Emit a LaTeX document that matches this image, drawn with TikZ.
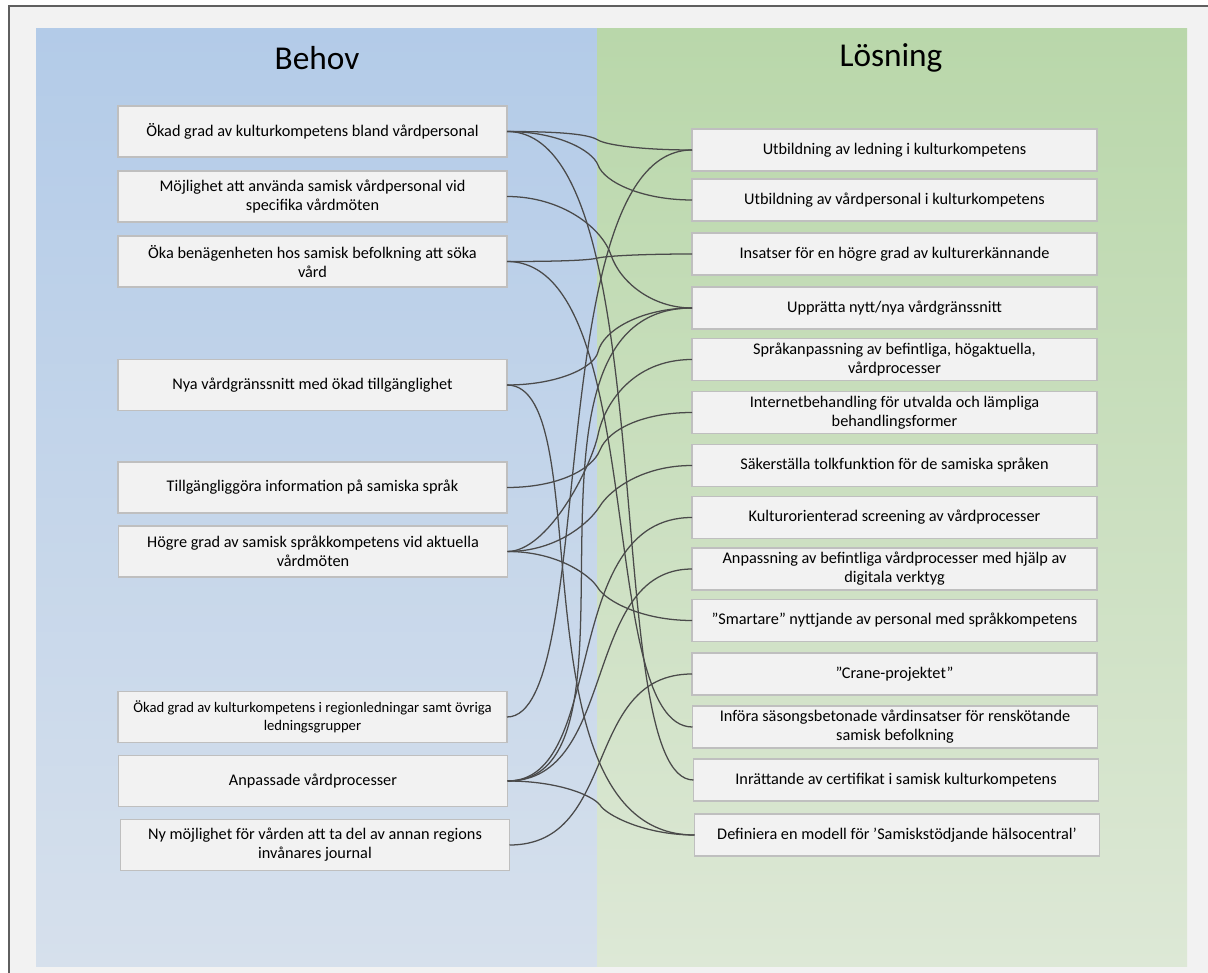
\documentclass[tikz,border=0pt]{standalone}
\usepackage{fontspec}
\setmainfont{Carlito}
\definecolor{pagegrey}{HTML}{F2F2F2}
\definecolor{framegrey}{HTML}{5F5F5F}
\definecolor{behovtop}{HTML}{B3CBE8}
\definecolor{behovbot}{HTML}{D6E0EC}
\definecolor{losntop}{HTML}{B9D7AA}
\definecolor{losnbot}{HTML}{DDE8D6}
\definecolor{boxfill}{HTML}{F2F2F2}
\definecolor{boxline}{HTML}{BFBFBF}
\definecolor{linkgrey}{HTML}{4A4A4A}
\begin{document}
\begin{tikzpicture}[x=0.75pt,y=-0.75pt,
  need/.style={draw=boxline, fill=boxfill, line width=0.9pt, inner sep=0pt, outer sep=0pt,
    minimum width=291.75pt, minimum height=38.25pt, align=center,
    font=\fontsize{12.2}{14.3}\selectfont},
  sol/.style={draw=boxline, fill=boxfill, line width=0.9pt, inner sep=0pt, outer sep=0pt,
    minimum width=303.75pt, minimum height=31.5pt, align=center,
    font=\fontsize{12.2}{14.3}\selectfont},
  heading/.style={font=\fontsize{25}{30}\selectfont, inner sep=0pt},
  link/.style={draw=linkgrey, line width=0.95pt}]

% page and frame
\useasboundingbox (0,0) rectangle (1208,973);
\fill[white] (0,0) rectangle (1208,973);
\fill[pagegrey] (9,6) rectangle (1208,973);
\draw[framegrey, line width=1.1pt] (9,973) -- (9,6) -- (1208,6);

% the two panels
\shade[top color=behovtop, bottom color=behovbot] (36,29) rectangle (597,966);
\shade[top color=losntop, bottom color=losnbot] (597,29) rectangle (1187,966);

\node[heading] (hBehov) at (317,58) {Behov};
\node[heading] (hLosning) at (891,58) {Lösning};

% needs
\node[need] (L1) at (312.5,131.5) {Ökad grad av kulturkompetens bland vårdpersonal};
\node[need] (L2) at (312.5,196.5) {Möjlighet att använda samisk vårdpersonal vid\\specifika vårdmöten};
\node[need] (L3) at (312.5,261.5) {Öka benägenheten hos samisk befolkning att söka\\vård};
\node[need] (L4) at (312.5,385) {Nya vårdgränssnitt med ökad tillgänglighet};
\node[need] (L5) at (312.5,487.5) {Tillgängliggöra information på samiska språk};
\node[need] (L6) at (313,551.5) {Högre grad av samisk språkkompetens vid aktuella\\vårdmöten};
\node[need, font=\fontsize{11}{14}\selectfont] (L7) at (312.5,717) {Ökad grad av kulturkompetens i regionledningar samt övriga\\ledningsgrupper};
\node[need] (L8) at (313,781) {Anpassade vårdprocesser};
\node[need] (L9) at (315,845) {Ny möjlighet för vården att ta del av annan regions\\invånares journal};

% solutions
\node[sol] (R1) at (894.5,150) {Utbildning av ledning i kulturkompetens};
\node[sol] (R2) at (894.5,200) {Utbildning av vårdpersonal i kulturkompetens};
\node[sol] (R3) at (894.5,254) {Insatser för en högre grad av kulturerkännande};
\node[sol] (R4) at (894.5,308) {Upprätta nytt/nya vårdgränssnitt};
\node[sol] (R5) at (894.5,359.5) {Språkanpassning av befintliga, högaktuella,\\vårdprocesser};
\node[sol] (R6) at (894.5,412.5) {Internetbehandling för utvalda och lämpliga\\behandlingsformer};
\node[sol] (R7) at (894.5,465.5) {Säkerställa tolkfunktion för de samiska språken};
\node[sol] (R8) at (894.5,517.5) {Kulturorienterad screening av vårdprocesser};
\node[sol] (R9) at (894.5,569) {Anpassning av befintliga vårdprocesser med hjälp av\\digitala verktyg};
\node[sol] (R10) at (894.5,620.5) {”Smartare” nyttjande av personal med språkkompetens};
\node[sol] (R11) at (894.5,674) {”Crane-projektet”};
\node[sol] (R12) at (895,727) {Införa säsongsbetonade vårdinsatser för renskötande\\samisk befolkning};
\node[sol] (R13) at (896,780) {Inrättande av certifikat i samisk kulturkompetens};
\node[sol] (R14) at (897,835) {Definiera en modell för ’Samiskstödjande hälsocentral’};

% links with a bend where they cross into the solution panel
\draw[link] (L1.east) .. controls +(60,0) and (590,135) .. (598,140) .. controls (606,145) and +(-50,0) .. (R1.west);
\draw[link] (L1.east) .. controls +(50,0) and (592,150) .. (598,165) .. controls (604,182) and +(-50,0) .. (R2.west);
\draw[link] (L2.east) .. controls +(55,0) and (602,228) .. (611,255) .. controls (620,282) and +(-40,0) .. (R4.west);
\draw[link] (L3.east) .. controls +(60,0) and (590,260) .. (598,258) .. controls (606,256) and +(-50,0) .. (R3.west);
\draw[link] (L4.east) .. controls +(50,0) and (594,368) .. (598,352) .. controls (603,330) and +(-50,0) .. (R4.west);
\draw[link] (L5.east) .. controls +(50,0) and (592,470) .. (600,450) .. controls (608,430) and +(-50,0) .. (R6.west);
\draw[link] (L6.east) .. controls +(40,0) and (590,470) .. (598,435) .. controls (604,405) and +(-60,0) .. (R5.west);
\draw[link] (L6.east) .. controls +(50,0) and (590,522) .. (600,506) .. controls (610,490) and +(-50,0) .. (R7.west);
\draw[link] (L6.east) .. controls +(50,0) and (590,575) .. (598,588) .. controls (606,601) and +(-50,0) .. (R10.west);
\draw[link] (L8.east) .. controls +(50,0) and (592,795) .. (600,805) .. controls (606,815) and +(-50,0) .. (R14.west);

% long sweeping links
\draw[link] (L1.east) .. controls +(159,0) and +(-95,0) .. (R13.west);
\draw[link] (L3.east) .. controls +(142,0) and +(-97,0) .. (R12.west);
\draw[link] (L4.east) .. controls +(94,0) and +(-185,0) .. (R14.west);
\draw[link] (L7.east) .. controls +(92,0) and +(-152,0) .. (R1.west);
\draw[link] (L8.east) .. controls +(154,0) and +(-202,0) .. (R4.west);
\draw[link] (L8.east) .. controls +(101,0) and +(-134,0) .. (R8.west);
\draw[link] (L8.east) .. controls +(111,0) and +(-111,0) .. (R9.west);
\draw[link] (L9.east) .. controls +(110,0) and +(-110,0) .. (R11.west);

\end{tikzpicture}
\end{document}
